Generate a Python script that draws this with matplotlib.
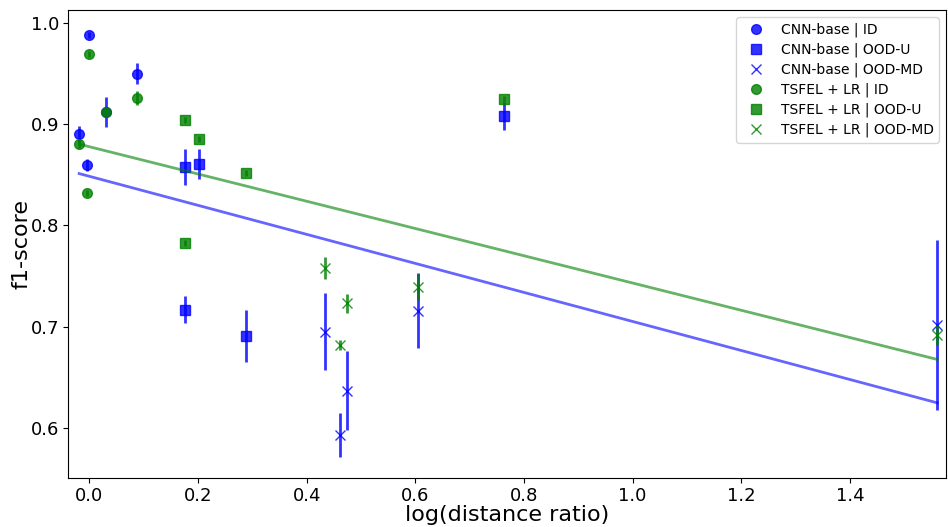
import matplotlib
matplotlib.use("Agg")
import matplotlib.pyplot as plt
import numpy as np

# log(distance ratio) per split
X_ID = [-0.019, -0.001, -0.005, 0.030, 0.088]
X_OODU = [0.175, 0.175, 0.202, 0.289, 0.763]
X_OODMD = [0.434, 0.461, 0.474, 0.605, 1.561]

# f1-score mean / std
CNN_ID = [0.890, 0.988, 0.860, 0.912, 0.950]
CNN_ID_ERR = [0.008, 0.003, 0.006, 0.015, 0.010]
CNN_OODU = [0.858, 0.717, 0.861, 0.691, 0.908]
CNN_OODU_ERR = [0.018, 0.013, 0.015, 0.026, 0.014]
CNN_OODMD = [0.695, 0.593, 0.637, 0.716, 0.702]
CNN_OODMD_ERR = [0.038, 0.022, 0.039, 0.037, 0.084]

TSFEL_ID = [0.880, 0.969, 0.832, 0.912, 0.926]
TSFEL_ID_ERR = [0.003, 0.003, 0.003, 0.004, 0.007]
TSFEL_OODU = [0.904, 0.783, 0.885, 0.852, 0.925]
TSFEL_OODU_ERR = [0.003, 0.003, 0.003, 0.003, 0.003]
TSFEL_OODMD = [0.758, 0.682, 0.723, 0.739, 0.692]
TSFEL_OODMD_ERR = [0.011, 0.005, 0.009, 0.013, 0.010]

MODELS = ["CNN-base", "TSFEL + LR"]
COLORS = ["blue", "green"]
SPLITS = ["ID", "OOD-U", "OOD-MD"]
MARKERS = ["o", "s", "x"]

fig = plt.figure(figsize=(9.48, 5.27), dpi=100)
ax = fig.add_axes([0.0717, 0.093, 0.9263, 0.888])

xs = [X_ID, X_OODU, X_OODMD]
data = [
    [(CNN_ID, CNN_ID_ERR), (CNN_OODU, CNN_OODU_ERR), (CNN_OODMD, CNN_OODMD_ERR)],
    [(TSFEL_ID, TSFEL_ID_ERR), (TSFEL_OODU, TSFEL_OODU_ERR), (TSFEL_OODMD, TSFEL_OODMD_ERR)],
]

for model, color, rows in zip(MODELS, COLORS, data):
    all_x, all_y = [], []
    for split, marker, x, (y, err) in zip(SPLITS, MARKERS, xs, rows):
        ax.errorbar(x, y, yerr=err, fmt="none", ecolor=color, elinewidth=2, alpha=0.8)
        ax.plot(x, y, marker, ls="", color=color, alpha=0.8, ms=7, mew=1,
                label=f"{model} | {split}")
        all_x += x
        all_y += y
    # linear fit over every split
    k, b = np.polyfit(all_x, all_y, 1)
    xx = np.array([min(all_x), max(all_x)])
    ax.plot(xx, k * xx + b, color=color, alpha=0.6, lw=2)

ax.set_xlim(-0.0396, 1.577)
ax.set_ylim(0.5506, 1.0128)
ax.set_xlabel("log(distance ratio)", fontsize=16, labelpad=0)
ax.set_ylabel("f1-score", fontsize=16, labelpad=-1)
ax.tick_params(labelsize=13, pad=3)
ax.legend(loc="upper right", fontsize=10, borderaxespad=0.5, labelspacing=0.4)

fig.savefig("out.png", dpi=100)
